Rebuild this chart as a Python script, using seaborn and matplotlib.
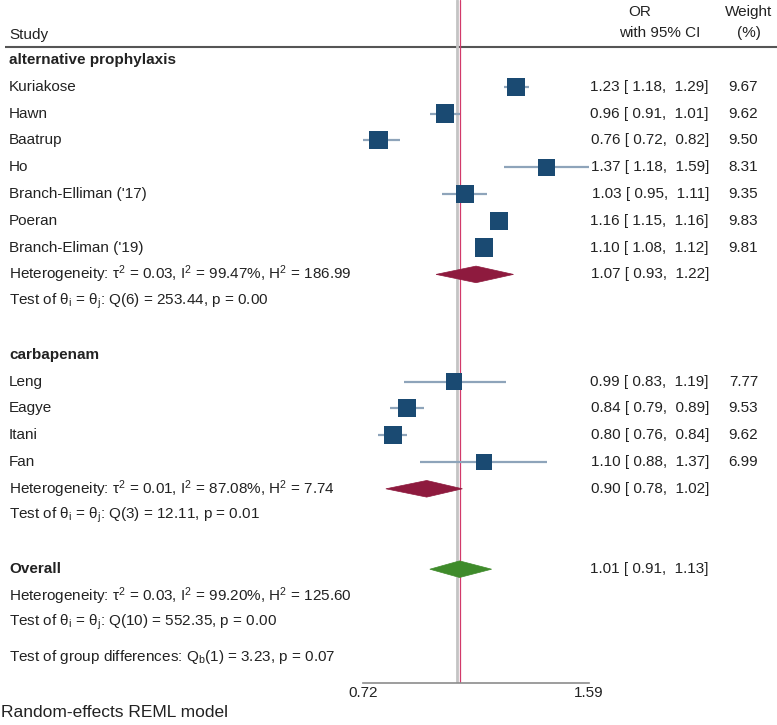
import numpy as np
import pandas as pd
import seaborn as sns
import matplotlib.pyplot as plt
from matplotlib.patches import Polygon

# study level data (odds ratios, 95% CI, weights)
studies = ['Kuriakose', 'Hawn', 'Baatrup', 'Ho', "Branch-Elliman ('17)", 'Poeran',
           "Branch-Eliman ('19)", 'Leng', 'Eagye', 'Itani', 'Fan']
odds = [1.23, 0.96, 0.76, 1.37, 1.03, 1.16, 1.10, 0.99, 0.84, 0.80, 1.10]
lower = [1.18, 0.91, 0.72, 1.18, 0.95, 1.15, 1.08, 0.83, 0.79, 0.76, 0.88]
upper = [1.29, 1.01, 0.82, 1.59, 1.11, 1.16, 1.12, 1.19, 0.89, 0.84, 1.37]
weights = [9.67, 9.62, 9.50, 8.31, 9.35, 9.83, 9.81, 7.77, 9.53, 9.62, 6.99]
rows = [1, 2, 3, 4, 5, 6, 7, 12, 13, 14, 15]

# pooled estimates
pooled_names = ['alternative prophylaxis', 'carbapenam', 'Overall']
pooled_or = [1.07, 0.90, 1.01]
pooled_lo = [0.93, 0.78, 0.91]
pooled_hi = [1.22, 1.02, 1.13]
pooled_rows = [8, 16, 19]
pooled_colors = ['#8e1a3e', '#8e1a3e', '#3f8b2b']
header_rows = [0, 11, 19]

het_texts = ['Heterogeneity: τ$^2$ = 0.03, I$^2$ = 99.47%, H$^2$ = 186.99',
             'Test of θ$_i$ = θ$_j$: Q(6) = 253.44, p = 0.00',
             'Heterogeneity: τ$^2$ = 0.01, I$^2$ = 87.08%, H$^2$ = 7.74',
             'Test of θ$_i$ = θ$_j$: Q(3) = 12.11, p = 0.01',
             'Heterogeneity: τ$^2$ = 0.03, I$^2$ = 99.20%, H$^2$ = 125.60',
             'Test of θ$_i$ = θ$_j$: Q(10) = 552.35, p = 0.00',
             'Test of group differences: Q$_b$(1) = 3.23, p = 0.07']
het_rows = [8, 9, 16, 17, 20, 21, 22.28]
x_ticks = [0.72, 1.59]

df = pd.DataFrame({'study': studies, 'OR': odds, 'lo': lower, 'hi': upper,
                   'weight': weights, 'row': rows})

sns.set_style('white')
plt.rcParams['font.family'] = ['Liberation Sans', 'DejaVu Sans']
plt.rcParams['mathtext.fontset'] = 'custom'
plt.rcParams['mathtext.rm'] = 'Liberation Sans'
plt.rcParams['mathtext.it'] = 'Liberation Sans'
plt.rcParams['mathtext.default'] = 'regular'

W, H = 777, 725
row0, step = 60, 26.8


def px2row(p):
    return (p - row0) / step


fig = plt.figure(figsize=(W / 100, H / 100), dpi=100)
ax_txt = fig.add_axes([0, 0, 1, 1])
ax_txt.set_xlim(0, W)
ax_txt.set_ylim(px2row(H), px2row(0))
ax_txt.axis('off')

# forest panel, log scale, bottom edge = axis line
left, right = 355, 599.6
axis_px = 683
ax = fig.add_axes([left / W, (H - axis_px) / H, (right - left) / W, axis_px / H])
ax.patch.set_alpha(0)
ax.set_xscale('log')
ax.set_xlim(0.70, 1.65)
ax.set_ylim(px2row(axis_px), px2row(0))

ax.axvline(1.0, color='#c4c4c4', lw=2, zorder=1)
ax.axvline(pooled_or[2], color='#d2396a', lw=0.9, zorder=2)

ax.hlines(df['row'], df['lo'], df['hi'], color='#8ea4ba', lw=1.6, zorder=3)
sns.scatterplot(data=df, x='OR', y='row', size='weight', sizes=(0, 180),
                size_norm=(0, 10), marker='s', color='#1a4a72', linewidth=0,
                legend=False, ax=ax, zorder=4)

h = 0.31
for es, lo, hi, r, c in zip(pooled_or, pooled_lo, pooled_hi, pooled_rows, pooled_colors):
    ax.add_patch(Polygon([(lo, r), (es, r - h), (hi, r), (es, r + h)],
                         closed=True, facecolor=c, edgecolor=c, lw=0.5, zorder=4))

for s in ['top', 'right', 'left']:
    ax.spines[s].set_visible(False)
ax.spines['bottom'].set_bounds(x_ticks[0], x_ticks[-1])
ax.spines['bottom'].set_color('#8c8c8c')
ax.spines['bottom'].set_linewidth(1.2)
ax.set_xticks(x_ticks)
ax.set_xticks([], minor=True)
ax.set_xticklabels([f'{t:.2f}' for t in x_ticks])
ax.tick_params(axis='x', direction='in', length=5, width=1.2, color='#8c8c8c',
               labelsize=11, labelcolor='#222222', pad=2)
ax.set_yticks([])
ax.set_xlabel('')
ax.set_ylabel('')

# text columns
fs = 11
tc = '#222222'
ax_txt.text(9, px2row(35), 'Study', fontsize=fs, color=tc, va='center')
ax_txt.text(640, px2row(12), 'OR', fontsize=fs, color=tc, va='center', ha='center')
ax_txt.text(660, px2row(33), 'with 95% CI', fontsize=fs, color=tc, va='center', ha='center')
ax_txt.text(749, px2row(12), 'Weight', fontsize=fs, color=tc, va='center', ha='center')
ax_txt.text(749, px2row(33), '(%)', fontsize=fs, color=tc, va='center', ha='center')
ax_txt.hlines(px2row(47), 5, W, color='#555555', lw=1.5)

for name, r in zip(pooled_names, header_rows):
    ax_txt.text(9, r, name, fontsize=fs, color=tc, va='center', fontweight='bold')

for _, d in df.iterrows():
    ax_txt.text(9, d['row'], d['study'], fontsize=fs, color=tc, va='center')
    ax_txt.text(709, d['row'], f"{d['OR']:.2f} [ {d['lo']:.2f},  {d['hi']:.2f}]",
                fontsize=fs, color=tc, va='center', ha='right')
    ax_txt.text(758, d['row'], f"{d['weight']:.2f}", fontsize=fs, color=tc,
                va='center', ha='right')

for es, lo, hi, r in zip(pooled_or, pooled_lo, pooled_hi, pooled_rows):
    ax_txt.text(709, r, f"{es:.2f} [ {lo:.2f},  {hi:.2f}]", fontsize=fs, color=tc,
                va='center', ha='right')

for t, r in zip(het_texts, het_rows):
    ax_txt.text(9, r, t, fontsize=fs, color=tc, va='center')

ax_txt.text(1, px2row(713), 'Random-effects REML model', fontsize=12.5, color=tc,
            va='center')

fig.savefig('out.png', dpi=100)
